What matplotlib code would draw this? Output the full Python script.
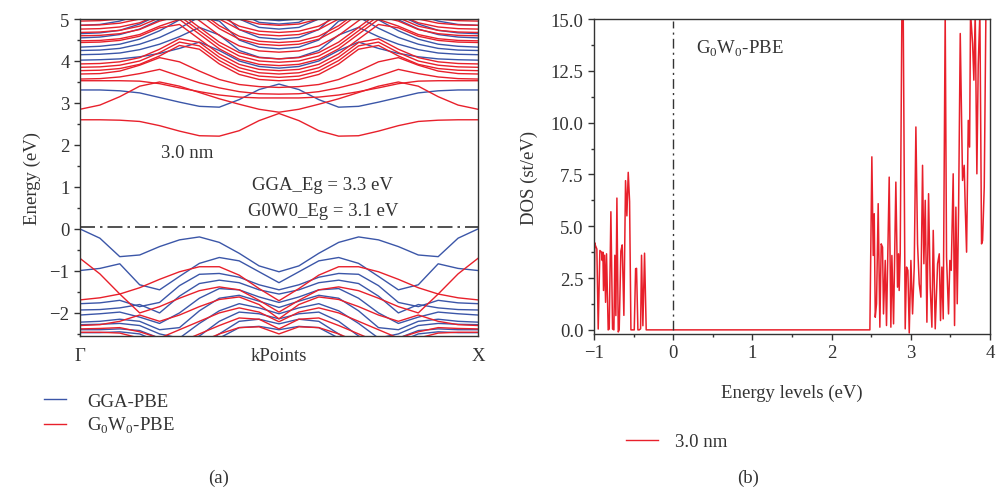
import matplotlib
matplotlib.use("Agg")
import matplotlib.pyplot as plt
from matplotlib.lines import Line2D
from matplotlib.ticker import MultipleLocator

plt.rcParams['font.family'] = ['Liberation Serif', 'DejaVu Serif']
plt.rcParams['mathtext.fontset'] = 'custom'
plt.rcParams['mathtext.rm'] = 'Liberation Serif'

# k points from Gamma to the middle of the path (bands are symmetric about 0.5)
k_half = [0.0, 0.05, 0.10, 0.15, 0.20, 0.25, 0.30, 0.35, 0.40, 0.45, 0.50]

# GGA-PBE bands (half path)
gga_bands = [
    [3.31, 3.31, 3.29, 3.24, 3.13, 3.02, 2.92, 2.90, 3.08, 3.32, 3.45],
    [4.02, 4.03, 4.05, 4.10, 4.18, 4.30, 4.45, 4.25, 4.00, 3.87, 3.83],
    [4.15, 4.16, 4.19, 4.27, 4.40, 4.58, 4.80, 4.62, 4.25, 4.09, 4.05],
    [4.25, 4.26, 4.30, 4.40, 4.56, 4.78, 5.05, 4.95, 4.50, 4.33, 4.29],
    [4.33, 4.35, 4.40, 4.52, 4.72, 4.98, 5.30, 5.20, 4.75, 4.56, 4.52],
    [4.55, 4.57, 4.63, 4.76, 4.98, 5.25, 5.50, 5.50, 5.00, 4.80, 4.76],
    [4.65, 4.67, 4.73, 4.88, 5.10, 5.40, 5.60, 5.60, 5.15, 4.92, 4.88],
    [4.85, 4.87, 4.95, 5.10, 5.30, 5.60, 5.80, 5.70, 5.25, 5.00, 4.96],
    [0.00, -0.22, -0.66, -0.62, -0.42, -0.26, -0.19, -0.32, -0.58, -0.88, -1.02],
    [-0.99, -0.94, -0.83, -1.33, -1.45, -1.13, -0.82, -0.68, -0.76, -1.02, -1.28],
    [-1.78, -1.76, -1.70, -1.85, -1.75, -1.35, -1.08, -1.06, -1.15, -1.33, -1.45],
    [-1.93, -1.92, -1.88, -1.80, -2.00, -1.60, -1.30, -1.22, -1.28, -1.45, -1.55],
    [-2.05, -2.02, -1.98, -2.10, -2.25, -2.00, -1.65, -1.42, -1.45, -1.62, -1.75],
    [-2.22, -2.20, -2.15, -2.20, -2.40, -2.35, -1.95, -1.65, -1.58, -1.72, -1.87],
    [-2.28, -2.27, -2.25, -2.30, -2.50, -2.60, -2.25, -1.95, -1.78, -1.88, -2.02],
    [-2.40, -2.40, -2.38, -2.42, -2.60, -2.70, -2.55, -2.20, -1.98, -2.02, -2.14],
    [-2.47, -2.47, -2.45, -2.50, -2.70, -2.80, -2.80, -2.50, -2.20, -2.15, -2.26],
    [-2.60, -2.60, -2.58, -2.65, -2.85, -2.90, -2.90, -2.60, -2.35, -2.32, -2.40],
]

# G0W0-PBE bands (half path)
gw_bands = [
    [2.60, 2.60, 2.59, 2.56, 2.46, 2.33, 2.22, 2.21, 2.34, 2.58, 2.75],
    [2.85, 2.95, 3.15, 3.40, 3.50, 3.40, 3.25, 3.10, 2.97, 2.85, 2.78],
    [3.53, 3.53, 3.53, 3.52, 3.46, 3.36, 3.27, 3.19, 3.14, 3.12, 3.12],
    [3.57, 3.58, 3.62, 3.70, 3.80, 3.64, 3.48, 3.36, 3.27, 3.22, 3.21],
    [3.69, 3.70, 3.76, 3.90, 4.08, 3.98, 3.76, 3.56, 3.44, 3.39, 3.37],
    [3.77, 3.78, 3.82, 3.92, 4.12, 4.37, 4.28, 3.93, 3.68, 3.56, 3.53],
    [3.85, 3.86, 3.90, 4.00, 4.20, 4.45, 4.36, 4.01, 3.76, 3.64, 3.61],
    [3.93, 3.94, 3.98, 4.08, 4.28, 4.53, 4.44, 4.09, 3.84, 3.72, 3.69],
    [4.44, 4.45, 4.49, 4.59, 4.79, 4.87, 4.52, 4.17, 3.92, 3.80, 3.77],
    [4.48, 4.49, 4.53, 4.63, 4.83, 4.99, 4.64, 4.29, 4.04, 3.92, 3.89],
    [4.60, 4.61, 4.65, 4.75, 4.95, 5.07, 4.72, 4.37, 4.12, 4.00, 3.97],
    [4.68, 4.69, 4.73, 4.83, 5.03, 5.15, 4.80, 4.45, 4.20, 4.08, 4.05],
    [4.76, 4.77, 4.81, 4.91, 5.11, 5.31, 4.96, 4.61, 4.36, 4.24, 4.21],
    [4.85, 4.86, 4.90, 5.00, 5.20, 5.47, 5.12, 4.77, 4.52, 4.40, 4.37],
    [4.95, 4.96, 5.00, 5.10, 5.30, 5.54, 5.19, 4.84, 4.59, 4.47, 4.44],
    [5.05, 5.06, 5.10, 5.20, 5.40, 5.70, 5.35, 5.00, 4.75, 4.63, 4.60],
    [5.15, 5.16, 5.20, 5.30, 5.50, 5.80, 5.43, 5.08, 4.83, 4.71, 4.68],
    [5.30, 5.31, 5.35, 5.45, 5.65, 5.95, 5.60, 5.25, 5.00, 4.88, 4.85],
    [-0.70, -1.07, -1.55, -2.00, -1.85, -1.65, -1.47, -1.38, -1.45, -1.70, -1.98],
    [-1.69, -1.64, -1.55, -1.40, -1.20, -1.02, -0.90, -0.90, -1.10, -1.42, -1.71],
    [-2.30, -2.28, -2.20, -2.05, -2.20, -2.05, -1.85, -1.68, -1.62, -1.80, -2.14],
    [-2.38, -2.37, -2.35, -2.45, -2.60, -2.40, -2.20, -2.00, -1.88, -1.98, -2.21],
    [-2.46, -2.46, -2.48, -2.60, -2.80, -2.70, -2.50, -2.30, -2.12, -2.15, -2.38],
    [-2.60, -2.60, -2.62, -2.75, -2.95, -2.90, -2.70, -2.50, -2.35, -2.33, -2.50],
]

fermi_level = 0.05

# DOS (G0W0-PBE, 3.0 nm)
dos_e = [-1.000, -0.990, -0.985, -0.964, -0.947, -0.926, -0.905, -0.896, -0.888, -0.880,
         -0.867, -0.854, -0.842, -0.821, -0.808, -0.787, -0.766, -0.749, -0.737, -0.724,
         -0.711, -0.694, -0.682, -0.661, -0.644, -0.623, -0.602, -0.585, -0.568, -0.551,
         -0.534, -0.513, -0.492, -0.475, -0.463, -0.446, -0.429, -0.412, -0.400, -0.383,
         -0.362, -0.341, -0.324, 2.483, 2.508, 2.525, 2.538, 2.551, 2.567, 2.588,
         2.609, 2.626, 2.643, 2.655, 2.677, 2.693, 2.727, 2.748, 2.761, 2.782,
         2.811, 2.832, 2.845, 2.853, 2.866, 2.887, 2.904, 2.929, 2.946, 2.963,
         2.980, 3.001, 3.022, 3.043, 3.064, 3.085, 3.106, 3.127, 3.148, 3.165,
         3.182, 3.203, 3.224, 3.245, 3.266, 3.283, 3.308, 3.338, 3.359, 3.375,
         3.392, 3.409, 3.434, 3.451, 3.476, 3.493, 3.510, 3.535, 3.552, 3.569,
         3.586, 3.603, 3.624, 3.653, 3.674, 3.687, 3.704, 3.725, 3.742, 3.754,
         3.780, 3.796, 3.813, 3.834, 3.851, 3.872, 3.893, 3.906, 3.927, 3.948,
         3.969, 3.990]
dos_v = [0.86, 4.2, 4.1, 3.9, 0.04, 3.83, 3.75, 3.35, 3.75, 1.9,
         3.6, 1.33, 3.67, 0.0, 0.04, 5.7, 0.04, 0.0, 3.6, 0.69,
         6.36, -0.1, 0.0, 3.8, 4.1, 0.7, 7.2, 5.5, 7.6, 6.2,
         0.0, 0.0, 0.0, 2.95, 2.97, 0.0, 0.0, 0.05, 3.6, 0.2,
         3.7, 0.0, 0.0, 0.0, 8.35, 3.59, 5.6, 0.61, 1.26, 6.09,
         0.13, 4.15, 3.99, 0.77, 3.35, 0.21, 7.37, 0.13, 3.59, 0.29,
         7.13, 2.06, 3.67, 1.9, 3.67, 15.3, 15.3, 0.05, 3.03, 2.87,
         -0.15, 3.35, 0.77, 3.03, 9.79, 4.15, 2.22, 1.58, 7.94, 3.19,
         6.25, 0.37, 6.57, 2.06, 0.13, 4.8, 0.05, 3.19, 3.67, 0.45,
         3.03, 0.53, 15.3, 3.51, 0.77, 3.35, 2.87, 7.53, 0.21, 5.92,
         1.26, 5.76, 14.3, 7.21, 7.94, 5.92, 3.75, 10.11, 8.82, 15.3,
         13.82, 12.05, 15.3, 7.53, 12.77, 15.3, 4.15, 4.31, 6.89, 15.3,
         15.3, 15.3]

blue = '#3b56a8'
red = '#e8202b'
grey = '#333333'
fs = 13.5

k_full = k_half + [1.0 - k for k in k_half[-2::-1]]

fig = plt.figure(figsize=(9.96, 4.89), dpi=100)
ax1 = fig.add_axes([0.0803, 0.3108, 0.3996, 0.6483])
ax2 = fig.add_axes([0.5964, 0.3149, 0.3976, 0.6442])

for b in gga_bands:
    ax1.plot(k_full, b + b[-2::-1], color=blue, lw=1.0)
for b in gw_bands:
    ax1.plot(k_full, b + b[-2::-1], color=red, lw=1.0)
ax1.axhline(fermi_level, color=grey, lw=1.2, ls=(0, (9, 3, 1.5, 3)))

ax1.set_xlim(0, 1)
ax1.set_ylim(-2.55, 5)
ax1.set_xticks([0, 0.5, 1])
ax1.set_xticklabels(['Γ', 'kPoints', 'X'])
ax1.yaxis.set_minor_locator(MultipleLocator(0.5))
ax1.set_yticks([-2, -1, 0, 1, 2, 3, 4, 5])
ax1.set_yticklabels(['\u22122', '\u22121', '0', '1', '2', '3', '4', '5'])
ax1.set_ylabel('Energy (eV)', fontsize=fs, color=grey, labelpad=6)
ax1.text(0.27, 1.83, '3.0 nm', ha='center', va='center', fontsize=fs, color=grey)
ax1.text(0.61, 1.07, 'GGA_Eg = 3.3 eV', ha='center', va='center', fontsize=fs, color=grey)
ax1.text(0.61, 0.44, 'G0W0_Eg = 3.1 eV', ha='center', va='center', fontsize=fs, color=grey)

ax2.plot(dos_e, dos_v, color=red, lw=1.1)
ax2.plot([0, 0], [0, 14.9], color=grey, lw=1.0, ls=(0, (7, 3, 1.5, 3)))
ax2.set_xlim(-1, 4)
ax2.set_ylim(-0.2, 15)
ax2.xaxis.set_minor_locator(MultipleLocator(0.5))
ax2.yaxis.set_minor_locator(MultipleLocator(1.25))
ax2.set_xticks([-1, 0, 1, 2, 3, 4])
ax2.set_xticklabels(['\u22121', '0', '1', '2', '3', '4'])
ax2.set_yticks([0, 2.5, 5, 7.5, 10, 12.5, 15])
ax2.set_yticklabels(['0.0', '2.5', '5.0', '7.5', '10.0', '12.5', '15.0'])
ax2.set_xlabel('Energy levels (eV)', fontsize=fs, color=grey, labelpad=16)
ax2.set_ylabel('DOS (st/eV)', fontsize=fs, color=grey, labelpad=9)
ax2.text(0.29, 13.6, r'G$_\mathregular{0}$W$_\mathregular{0}$-PBE', ha='left', va='center',
         fontsize=fs, color=grey)

for ax in (ax1, ax2):
    for s in ax.spines.values():
        s.set_color(grey)
        s.set_linewidth(1.0)
    ax.tick_params(which='both', direction='out', colors=grey, labelsize=fs, width=1.0)
    ax.tick_params(which='major', length=4)
    ax.tick_params(which='minor', length=2.5)
ax1.tick_params(axis='x', which='both', length=0, pad=8)

h1 = [Line2D([], [], color=blue, lw=1.0), Line2D([], [], color=red, lw=1.0)]
fig.legend(h1, ['GGA-PBE', r'G$_\mathregular{0}$W$_\mathregular{0}$-PBE'], loc='upper left',
           bbox_to_anchor=(0.027, 0.23), frameon=False, fontsize=fs, handlelength=1.2,
           handletextpad=1.1, labelspacing=0.3, labelcolor=grey)
h2 = [Line2D([], [], color=red, lw=1.0)]
fig.legend(h2, ['3.0 nm'], loc='upper left', bbox_to_anchor=(0.612, 0.147), frameon=False,
           fontsize=fs, handlelength=1.7, handletextpad=0.9, labelcolor=grey)

fig.text(0.219, 0.022, '(a)', ha='center', va='center', fontsize=fs, color=grey)
fig.text(0.751, 0.022, '(b)', ha='center', va='center', fontsize=fs, color=grey)

fig.savefig('out.png', dpi=100)
